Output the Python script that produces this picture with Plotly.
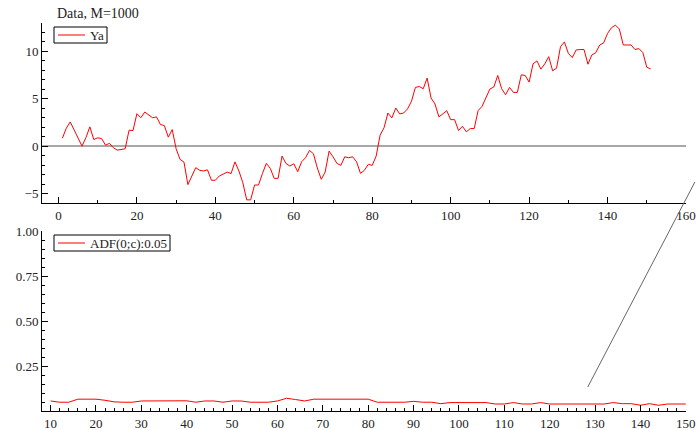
import plotly.graph_objects as go

# ---------------- data ----------------
t_ya = list(range(1, 152))
ya = [
    0.84, 1.90, 2.56, 1.75, 0.95, 0.00, 0.90, 2.04, 0.70, 0.88,
    0.80, 0.10, 0.30, -0.17, -0.42, -0.32, -0.28, 1.68, 1.65, 3.43,
    3.00, 3.60, 3.33, 3.00, 3.09, 2.28, 2.17, 0.95, 1.75, -0.28,
    -1.40, -1.68, -4.06, -3.15, -2.27, -2.55, -2.62, -2.50, -3.60, -3.60,
    -3.15, -2.95, -2.73, -2.90, -1.66, -2.62, -3.85, -5.67, -5.67, -4.10,
    -4.10, -2.90, -1.82, -2.34, -3.40, -3.40, -1.05, -1.82, -2.10, -1.86,
    -2.70, -1.64, -1.22, -0.45, -0.80, -2.30, -3.50, -2.73, -0.52, -1.12,
    -1.82, -2.03, -1.12, -1.22, -1.12, -1.65, -2.87, -2.55, -1.92, -2.03,
    -1.05, 1.16, 1.93, 3.50, 2.98, 4.03, 3.40, 3.50, 3.93, 4.73,
    6.20, 6.30, 6.06, 7.18, 5.08, 4.45, 3.09, 3.40, 3.75, 2.80,
    2.80, 1.65, 2.10, 1.51, 1.86, 1.86, 3.75, 4.20, 5.20, 6.03,
    6.24, 7.46, 6.06, 5.43, 6.20, 5.67, 5.67, 7.53, 7.46, 6.76,
    8.69, 9.00, 8.13, 8.69, 9.45, 7.95, 8.23, 10.50, 11.00, 9.80,
    9.35, 10.16, 10.20, 10.20, 8.65, 9.63, 9.87, 10.68, 10.90, 11.90,
    12.50, 12.78, 12.36, 10.68, 10.68, 10.68, 10.20, 10.30, 9.87, 8.33,
    8.15,
]

t_adf = list(range(10, 151, 2))
adf = [
    0.056, 0.049, 0.049, 0.066, 0.066, 0.066, 0.060, 0.051, 0.049, 0.049,
    0.056, 0.057, 0.057, 0.057, 0.057, 0.057, 0.049, 0.056, 0.056, 0.049,
    0.056, 0.056, 0.049, 0.049, 0.049, 0.056, 0.071, 0.064, 0.056, 0.066,
    0.066, 0.066, 0.066, 0.066, 0.066, 0.066, 0.049, 0.049, 0.049, 0.049,
    0.054, 0.049, 0.049, 0.041, 0.047, 0.047, 0.047, 0.047, 0.047, 0.039,
    0.039, 0.047, 0.039, 0.039, 0.047, 0.039, 0.039, 0.039, 0.039, 0.039,
    0.039, 0.039, 0.047, 0.041, 0.041, 0.032, 0.041, 0.032, 0.039, 0.039,
    0.039,
]

series_names = ["Ya", "ADF(0;c):0.05"]
title_text = "Data, M=1000"

top_xticks = [0, 20, 40, 60, 80, 100, 120, 140, 160]
top_yticks = [-5, 0, 5, 10]
bot_xticks = list(range(10, 151, 10))
bot_yticks = [0.25, 0.50, 0.75, 1.00]

# stray diagonal line (in bottom-panel data units)
stray_x = [128.4, 152.0]
stray_y = [0.134, 1.278]

# ---------------- style / layout ----------------
FONT = "Liberation Serif"
W, H = 696, 430
ML, MR, MT, MB = 42, 10, 23, 19
top_xrange = [-4.2, 160]
top_yrange = [-6, 13]
bot_xrange = [8.1, 150.05]
bot_yrange = [0, 1.005]

PW = W - ML - MR
PH = H - MT - MB

def px_x(p):   # pixel -> paper x
    return (p - ML) / PW

def px_y(p):   # pixel -> paper y
    return (H - MB - p) / PH

fig = go.Figure()
fig.add_trace(go.Scatter(x=t_ya, y=ya, mode="lines", name=series_names[0],
                         line=dict(color="#ff0000", width=1),
                         xaxis="x", yaxis="y", showlegend=False))
fig.add_trace(go.Scatter(x=t_adf, y=adf, mode="lines", name=series_names[1],
                         line=dict(color="#ff0000", width=1),
                         xaxis="x2", yaxis="y2", showlegend=False))

def ax(**kw):
    base = dict(showline=True, linecolor="black", linewidth=1, mirror=False,
                ticks="inside", ticklen=6, tickwidth=1, tickcolor="black",
                showgrid=False, zeroline=False, automargin=False,
                tickfont=dict(family=FONT, size=13, color="#222"))
    base.update(kw)
    return base

def dom(v, r):
    return (v - r[0]) / (r[1] - r[0])

shapes = [dict(type="line", xref="x2 domain", yref="y2 domain",
               x0=dom(stray_x[0], bot_xrange), y0=dom(stray_y[0], bot_yrange),
               x1=dom(stray_x[1], bot_xrange), y1=dom(stray_y[1], bot_yrange),
               line=dict(color="#666666", width=1))]
annotations = [dict(text=title_text, xref="paper", yref="paper",
                    x=px_x(55), y=px_y(23), xanchor="left", yanchor="bottom",
                    showarrow=False, font=dict(family=FONT, size=14, color="#222"))]

# legend boxes (box left, top, right, bottom in px)
legend_boxes = [(54, 27, 107, 43), (54, 235, 170, 251)]
for name, (bl, bt, br, bb) in zip(series_names, legend_boxes):
    cy = (bt + bb) / 2
    shapes.append(dict(type="rect", xref="paper", yref="paper",
                       x0=px_x(bl), x1=px_x(br), y0=px_y(bb), y1=px_y(bt),
                       line=dict(color="black", width=1), fillcolor="white"))
    shapes.append(dict(type="line", xref="paper", yref="paper",
                       x0=px_x(bl + 4), x1=px_x(bl + 31), y0=px_y(cy), y1=px_y(cy),
                       line=dict(color="#ff0000", width=1)))
    annotations.append(dict(text=name, xref="paper", yref="paper",
                            x=px_x(bl + 34), y=px_y(cy), xanchor="left", yanchor="middle",
                            showarrow=False, font=dict(family=FONT, size=13, color="#222")))

fig.update_layout(
    width=W, height=H,
    margin=dict(l=ML, r=MR, t=MT, b=MB),
    paper_bgcolor="white", plot_bgcolor="white",
    font=dict(family=FONT, size=13, color="#222"),
    xaxis=ax(domain=[0, 1], range=top_xrange, anchor="y",
             tickvals=top_xticks, minor=dict(ticks="inside", dtick=10, ticklen=3, tickcolor="black")),
    yaxis=ax(domain=[px_y(203), 1], range=top_yrange, anchor="x",
             tickvals=top_yticks, zeroline=True, zerolinecolor="#a8a8a8", zerolinewidth=2,
             minor=dict(ticks="inside", dtick=1, ticklen=3, tickcolor="black")),
    xaxis2=ax(domain=[0, 1], range=bot_xrange, anchor="y2",
              tickvals=bot_xticks, minor=dict(ticks="inside", dtick=2, tick0=0, ticklen=3, tickcolor="black")),
    yaxis2=ax(domain=[0, px_y(231)], range=bot_yrange, anchor="x2",
              tickvals=bot_yticks, tickformat=".2f",
              minor=dict(ticks="inside", dtick=0.05, tick0=0, ticklen=3, tickcolor="black")),
    showlegend=False,
    hovermode=False,
    annotations=annotations,
    shapes=shapes,
)

fig.write_html("out.html",
               config={"displayModeBar": False, "staticPlot": True},
               post_script="document.body.style.margin='0';document.body.style.overflow='hidden';")
